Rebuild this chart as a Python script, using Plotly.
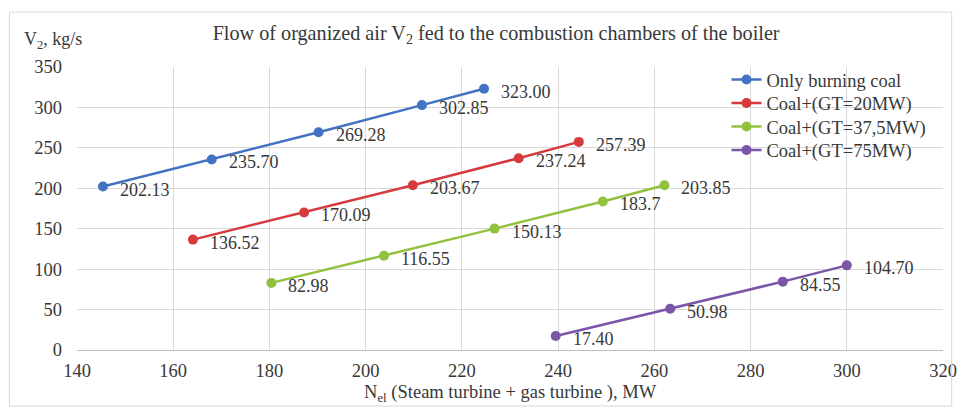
import plotly.graph_objects as go

series_names = ["Only burning coal", "Coal+(GT=20MW)", "Coal+(GT=37,5MW)", "Coal+(GT=75MW)"]
x_coal = [145.4, 168.0, 190.2, 211.7, 224.6]
y_coal = [202.13, 235.70, 269.28, 302.85, 323.00]
x_gt20 = [164.1, 187.2, 209.8, 231.8, 244.3]
y_gt20 = [136.52, 170.09, 203.67, 237.24, 257.39]
x_gt375 = [180.4, 203.8, 226.8, 249.3, 262.1]
y_gt375 = [82.98, 116.55, 150.13, 183.70, 203.85]
x_gt75 = [239.5, 263.3, 286.7, 300.0]
y_gt75 = [17.40, 50.98, 84.55, 104.70]
label_coal = ["202.13", "235.70", "269.28", "302.85", "323.00"]
label_gt20 = ["136.52", "170.09", "203.67", "237.24", "257.39"]
label_gt375 = ["82.98", "116.55", "150.13", "183.7", "203.85"]
label_gt75 = ["17.40", "50.98", "84.55", "104.70"]
colors = ["#4372C2", "#D63A3C", "#92C13F", "#7B55A8"]

x_ticks = [140, 160, 180, 200, 220, 240, 260, 280, 300, 320]
y_ticks = [0, 50, 100, 150, 200, 250, 300, 350]

FONT = "Liberation Serif"
TXT = "#383838"

fig = go.Figure()
data = [(x_coal, y_coal, label_coal), (x_gt20, y_gt20, label_gt20),
        (x_gt375, y_gt375, label_gt375), (x_gt75, y_gt75, label_gt75)]
legend_ids = ["legend", "legend2", "legend3", "legend4"]
legend_y = [0.954, 0.871, 0.788, 0.705]
annotations = []
for (xs, ys, labs), name, col, lg in zip(data, series_names, colors, legend_ids):
    fig.add_trace(go.Scatter(x=xs, y=ys, mode="lines+markers", name=name, legend=lg,
                             line=dict(color=col, width=2.5),
                             marker=dict(color=col, size=10)))
    for xv, yv, lab in zip(xs, ys, labs):
        annotations.append(dict(x=xv, y=yv, xref="x", yref="y", text=lab,
                                showarrow=False, xanchor="left", yanchor="middle",
                                xshift=15, yshift=-3,
                                font=dict(family=FONT, size=18, color=TXT)))

annotations.append(dict(text="V<sub>2</sub>, kg/s", xref="paper", yref="paper",
                        x=-0.063, y=1.095, xanchor="left", yanchor="middle",
                        showarrow=False, font=dict(family=FONT, size=18, color=TXT)))
annotations.append(dict(text="N<sub>el</sub> (Steam turbine + gas turbine ), MW",
                        xref="paper", yref="paper", x=0.5, y=-0.152,
                        xanchor="center", yanchor="middle", showarrow=False,
                        font=dict(family=FONT, size=18.5, color=TXT)))

legend_style = dict(xanchor="left", yanchor="middle", bgcolor="rgba(0,0,0,0)",
                    font=dict(family=FONT, size=18.5, color=TXT), itemwidth=30,
                    borderwidth=0)
layout_legends = {}
for lg, ly in zip(legend_ids, legend_y):
    layout_legends[lg] = dict(x=0.75, y=ly, **legend_style)

fig.update_layout(
    width=969, height=409,
    margin=dict(l=77, r=16, t=67, b=59),
    paper_bgcolor="white", plot_bgcolor="white",
    title=dict(text="Flow of organized air V<sub>2</sub> fed to the combustion chambers of the boiler",
               x=0.512, xanchor="center", y=0.92, yanchor="middle",
               font=dict(family=FONT, size=20.2, color=TXT)),
    font=dict(family=FONT, size=18, color=TXT),
    showlegend=True,
    annotations=annotations,
    shapes=[dict(type="rect", xref="paper", yref="paper",
                 x0=-0.078, x1=1.01, y0=-0.198, y1=1.194,
                 line=dict(color="#d9d9d9", width=1))],
    **layout_legends,
)
fig.update_xaxes(range=[140, 320], tickvals=x_ticks, showgrid=True, gridcolor="#d9d9d9",
                 gridwidth=1, zeroline=False, showline=True, linecolor="#bfbfbf",
                 ticks="", ticklabelstandoff=4,
                 tickfont=dict(family=FONT, size=18.5, color=TXT))
fig.update_yaxes(range=[0, 350], tickvals=y_ticks, showgrid=True, gridcolor="#d9d9d9",
                 gridwidth=1, zeroline=False, showline=False,
                 ticks="", ticklabelstandoff=14,
                 tickfont=dict(family=FONT, size=18.5, color=TXT))

fig.write_html("out.html", config={"displayModeBar": False},
               post_script="document.body.style.margin='0';document.body.style.overflow='hidden';")
